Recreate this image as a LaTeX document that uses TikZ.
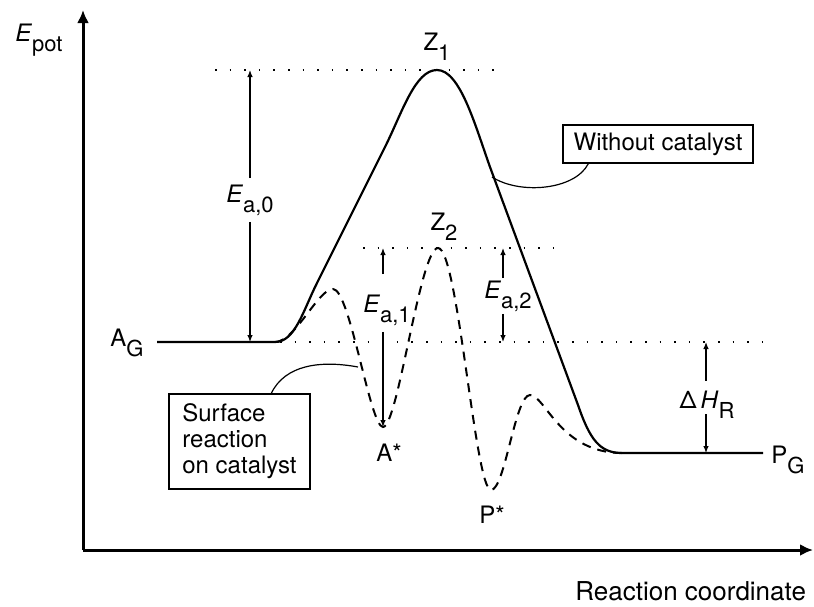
\documentclass[tikz,border=0pt]{standalone}
\usepackage{fontspec}
\setmainfont{TeX Gyre Heros}
\usetikzlibrary{arrows.meta}
\newcommand{\lsub}[1]{\raisebox{-5pt}{\fontsize{11}{13}\selectfont #1}}

\begin{document}
\begin{tikzpicture}[x=0.5pt, y=-0.5pt,
  font=\fontsize{12}{13}\selectfont,
  axis/.style={line width=1.5pt, -{Latex[length=6.5pt,width=6pt]}},
  curve/.style={line width=1.1pt},
  surfcurve/.style={line width=1pt, dash pattern=on 4.5pt off 3.5pt},
  level/.style={line width=0.7pt, dash pattern=on 0.8pt off 6.5pt},
  dim/.style={line width=0.6pt, -{Latex[length=3.5pt,width=2.8pt]}},
  dimlabel/.style={inner xsep=0pt, inner ysep=3pt},
  callout/.style={draw, line width=0.7pt, inner sep=0pt},
  lead/.style={line width=0.6pt}]

  \useasboundingbox (0,0) rectangle (814,606);

  % axes
  \coordinate (O) at (83,550);
  \draw[axis] (O) -- (83,10);
  \draw[axis] (O) -- (813,550);
  \node (Epot) at (39,40) {\textit{E}\lsub{pot}};
  \node[anchor=east, font=\fontsize{13}{15}\selectfont] (xlab) at (813,591) {Reaction coordinate};

  % key points
  \coordinate (AGend) at (275,342);
  \coordinate (Z1) at (437,70);
  \coordinate (Z2) at (438,248);
  \coordinate (Amin) at (383,427);
  \coordinate (Pmin) at (491,490);
  \coordinate (PGstart) at (622,453);

  % energy levels (dotted)
  \draw[level] (215,70) -- (497,70);
  \draw[level] (363,248) -- (567,248);
  \draw[level] (280,342) -- (765,342);

  % without catalyst
  \draw[curve] (157,342) -- (AGend) .. controls (295,342) and (303,311) .. (317,283)
    -- (385,147) .. controls (402,113) and (415,70) .. (Z1)
    .. controls (460,70) and (475,125) .. (490,167) -- (578,405)
    .. controls (590,440) and (600,453) .. (PGstart) -- (763,453);

  % surface reaction on catalyst
  \draw[surfcurve] (AGend) .. controls (295,342) and (318,289) .. (333,289)
    .. controls (350,289) and (370,427) .. (Amin)
    .. controls (398,427) and (420,248) .. (Z2)
    .. controls (458,248) and (475,490) .. (Pmin)
    .. controls (505,490) and (515,395) .. (530,395)
    .. controls (545,395) and (560,453) .. (PGstart);

  % state labels
  \node (Z1lab) at (437,47) {Z\lsub{1}};
  \node (Z2lab) at (444,227) {Z\lsub{2}};
  \node (AG) at (127,343) {A\lsub{G}};
  \node (PG) at (788,460) {P\lsub{G}};
  \node (Astar) at (389,453) {A*};
  \node (Pstar) at (492,515) {P*};

  % activation energies
  \node[dimlabel] (ea0) at (250,200) {\textit{E}\lsub{a,0}};
  \draw[dim] (ea0) -- (ea0 |- Z1);
  \draw[dim] (ea0) -- (ea0 |- AGend);

  \node[dimlabel] (ea1) at (387,310) {\textit{E}\lsub{a,1}};
  \draw[dim] ([yshift=7pt]ea1.north -| Amin) -- (Amin |- Z2);
  \draw[dim] (ea1.south -| Amin) -- (Amin);

  \coordinate (E2) at (503,342);
  \node[dimlabel, inner ysep=1pt] (ea2) at (508,296) {\textit{E}\lsub{a,2}};
  \draw[dim] (ea2.north -| E2) -- (E2 |- Z2);
  \draw[dim] (ea2.south -| E2) -- (E2);

  % reaction enthalpy
  \coordinate (H0) at (706,453);
  \node[dimlabel, inner ysep=0pt] (dH) at (707,405) {Δ\,\textit{H}\lsub{R}};
  \draw[dim] ([yshift=5pt]dH.north -| H0) -- (H0 |- AGend);
  \draw[dim] ([yshift=2.5pt]dH.south -| H0) -- (H0);

  % callouts
  \coordinate (wc) at (492,177);
  \coordinate (sc) at (358,367);
  \node[callout, minimum width=95pt, minimum height=19pt] (without) at (658,144) {Without catalyst};
  \node[callout, minimum width=70.5pt, minimum height=47.5pt, align=left] (surface) at (239.5,441.5) {Surface\\reaction\\on catalyst};
  \draw[lead] ([xshift=13pt]without.south west) .. controls (575,190) and (520,195) .. (wc);
  \draw[lead] ([xshift=51.5pt]surface.north west) .. controls (285,365) and (320,360) .. (sc);
\end{tikzpicture}
\end{document}
